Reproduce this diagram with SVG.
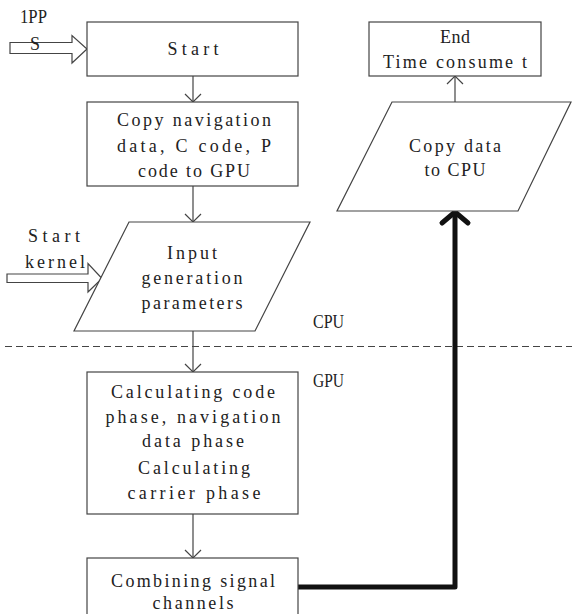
<svg xmlns="http://www.w3.org/2000/svg" width="572" height="614" viewBox="0 0 572 614">
  <style>
    .box { fill: #ffffff; stroke: #444444; stroke-width: 1.2; }
    .lbl { font-family: "Liberation Serif", "DejaVu Serif", serif; font-size: 18px; fill: #222222; text-anchor: middle; dominant-baseline: central; }
    .side { font-family: "Liberation Serif", "DejaVu Serif", serif; font-size: 18px; fill: #222222; dominant-baseline: central; }
    .flow { fill: none; stroke: #444444; stroke-width: 1.2; }
    .bold { fill: none; stroke: #111111; stroke-width: 5; stroke-linecap: round; stroke-linejoin: round; }
    .hollow { fill: #ffffff; stroke: #444444; stroke-width: 1.2; stroke-linejoin: miter; }
  </style>
  <defs>
    <marker id="open" markerUnits="userSpaceOnUse" markerWidth="18" markerHeight="18" refX="8" refY="0" viewBox="-1 -9 10 18" orient="auto" overflow="visible">
      <path d="M0,-8 L8,0 L0,8" fill="none" stroke="#444444" stroke-width="1.2"/>
    </marker>
  </defs>

  <rect width="572" height="614" fill="#ffffff"/>

  <!-- CPU / GPU boundary -->
  <line x1="5" y1="346.5" x2="572" y2="346.5" stroke="#444444" stroke-width="1.2" stroke-dasharray="7 4"/>
  <text class="side" x="313" y="322" textLength="31" lengthAdjust="spacingAndGlyphs">CPU</text>
  <text class="side" x="313" y="381" textLength="31" lengthAdjust="spacingAndGlyphs">GPU</text>

  <!-- hollow input arrows -->
  <g id="pps-input">
    <polygon class="hollow" points="10,42.5 72,42.5 72,35.5 87,49 72,63 72,53.5 10,53.5"/>
    <text class="side" x="20" y="17" textLength="27" lengthAdjust="spacingAndGlyphs">1PP</text>
    <text class="side" x="30" y="44">S</text>
  </g>
  <g id="kernel-input">
    <polygon class="hollow" points="7,274 88,274 88,263.5 102,278.5 88,292 88,282.5 7,282.5"/>
    <text class="side" x="28" y="236" textLength="52">Start</text>
    <text class="side" x="25" y="262" textLength="60">kernel</text>
  </g>

  <!-- connectors -->
  <g id="connectors">
    <path class="flow" d="M193,76 V102" marker-end="url(#open)"/>
    <path class="flow" d="M193,186 V222" marker-end="url(#open)"/>
    <path class="flow" d="M193,331 V372" marker-end="url(#open)"/>
    <path class="flow" d="M193,514 V558" marker-end="url(#open)"/>
    <path class="flow" d="M455,102 V76" marker-end="url(#open)"/>
    <path class="bold" d="M298,587 H455 V213"/>
    <path class="bold" d="M442,223 L455,212 L468,223"/>
  </g>

  <g id="start">
    <rect class="box" x="87" y="22" width="211" height="54"/>
    <text class="lbl" x="193" y="49" textLength="51">Start</text>
  </g>

  <g id="copy-to-gpu">
    <rect class="box" x="87" y="102" width="211" height="84"/>
    <text class="lbl" x="194" y="120" textLength="154">Copy navigation</text>
    <text class="lbl" x="194" y="146" textLength="154">data, C code, P</text>
    <text class="lbl" x="194" y="171" textLength="112">code to GPU</text>
  </g>

  <g id="input-params">
    <polygon class="box" points="129,222 310,222 255,331 74,331"/>
    <text class="lbl" x="192" y="253" textLength="50">Input</text>
    <text class="lbl" x="192" y="278" textLength="101">generation</text>
    <text class="lbl" x="192" y="303" textLength="101">parameters</text>
  </g>

  <g id="calc-phase">
    <rect class="box" x="87" y="372" width="211" height="142"/>
    <text class="lbl" x="193" y="392" textLength="164">Calculating code</text>
    <text class="lbl" x="193" y="417" textLength="175">phase, navigation</text>
    <text class="lbl" x="193" y="441" textLength="102">data phase</text>
    <text class="lbl" x="194" y="468" textLength="112">Calculating</text>
    <text class="lbl" x="194" y="493" textLength="133">carrier phase</text>
  </g>

  <g id="combine">
    <rect class="box" x="87" y="558" width="211" height="70"/>
    <text class="lbl" x="193" y="581" textLength="164">Combining signal</text>
    <text class="lbl" x="193" y="603" textLength="81">channels</text>
  </g>

  <g id="copy-to-cpu">
    <polygon class="box" points="392,102 571,102 518,211 337,211"/>
    <text class="lbl" x="455" y="146" textLength="92">Copy data</text>
    <text class="lbl" x="455" y="170" textLength="61">to CPU</text>
  </g>

  <g id="end">
    <rect class="box" x="369" y="22" width="172" height="54"/>
    <text class="lbl" x="455" y="37" textLength="30">End</text>
    <text class="lbl" x="455" y="62" textLength="144">Time consume t</text>
  </g>
</svg>
